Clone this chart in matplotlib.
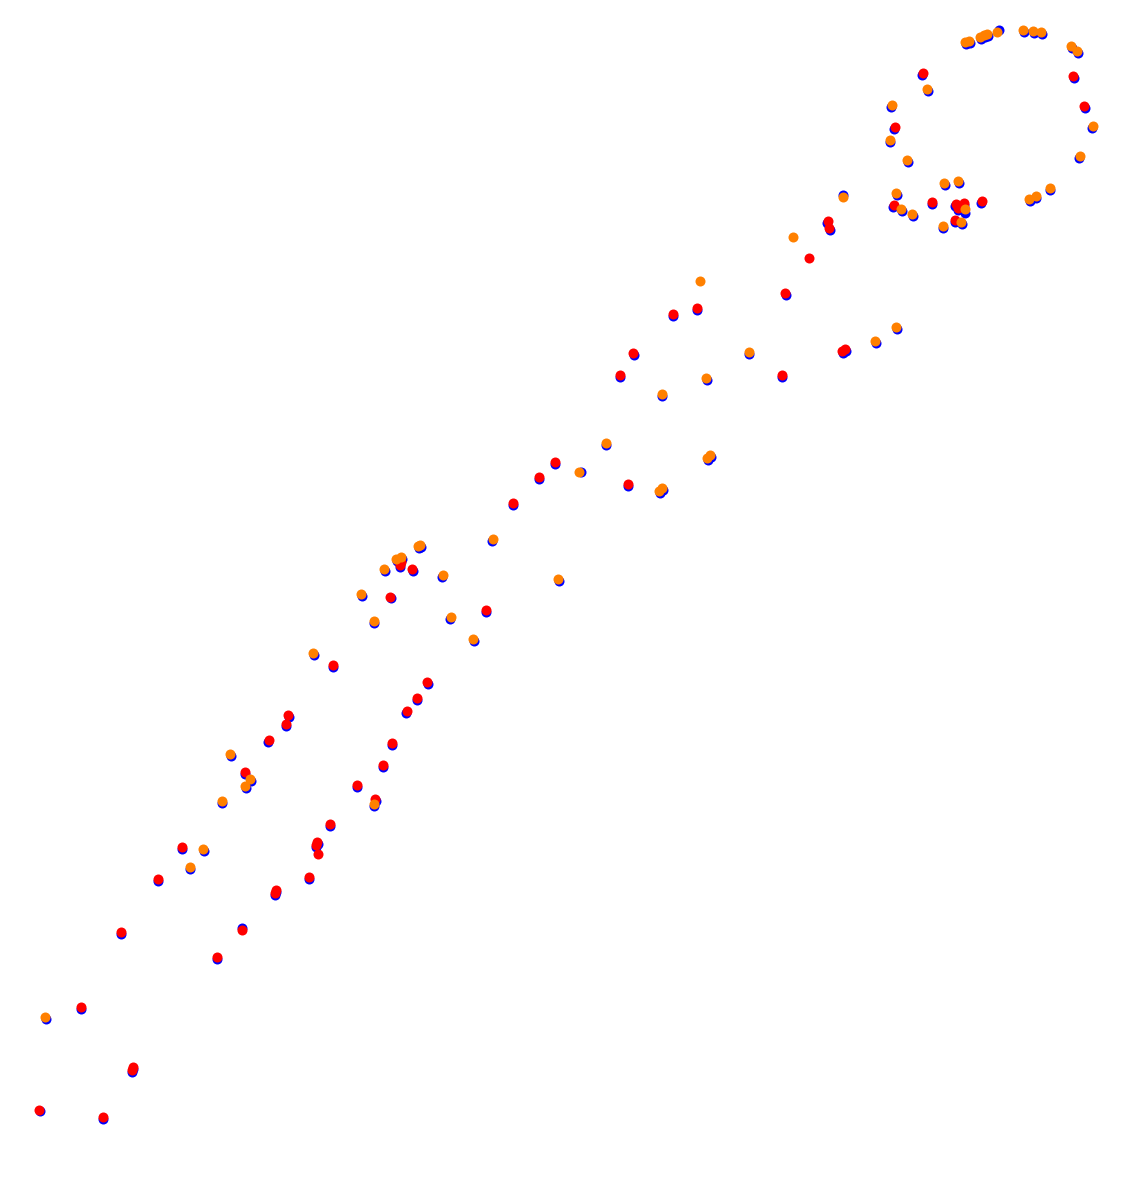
import matplotlib
matplotlib.use('Agg')
import matplotlib.pyplot as plt

# positions (image units, y grows downward)
red_x = [1073, 1084, 923, 895, 894, 932, 956, 958, 964, 955, 982,
         828, 829, 809, 785, 697, 673, 633, 620, 782, 842, 845,
         555, 539, 628, 513, 486,
         333, 427, 417, 407, 392, 383, 357, 375, 330,
         288, 286, 269, 245, 317, 316, 318, 309, 276, 275, 182, 158,
         242, 217, 121,
         412, 401, 400, 390,
         81, 133, 132, 39, 103]
red_y = [76, 106, 73, 127, 205, 202, 204, 208, 203, 220, 201,
         221, 228, 258, 293, 308, 314, 353, 375, 375, 351, 349,
         462, 477, 484, 503, 610,
         665, 682, 698, 711, 743, 765, 785, 799, 824,
         715, 724, 740, 772, 842, 845, 854, 877, 890, 893, 847, 879,
         930, 957, 932,
         569, 562, 565, 597,
         1007, 1067, 1070, 1110, 1117]

orange_x = [965, 969, 980, 984, 987, 997, 1023, 1033, 1041, 1071, 1077, 1093, 1080, 1050,
            1036, 1029, 927, 892, 890, 907, 944, 958, 896, 901, 912, 965, 961, 943,
            843, 793, 700, 662, 706, 749, 875, 896,
            606, 579, 659, 662, 707, 710, 493, 558,
            313, 374, 230, 250, 245, 222, 203, 190,
            420, 418, 396, 401, 384, 443, 361, 374, 451, 473,
            45]
orange_y = [42, 41, 37, 35, 34, 32, 30, 31, 32, 46, 51, 126, 156, 188,
            196, 199, 89, 105, 140, 160, 183, 181, 193, 209, 214, 209, 222, 226,
            197, 237, 281, 394, 378, 352, 341, 327,
            443, 472, 491, 488, 458, 455, 539, 579,
            653, 804, 754, 779, 786, 801, 849, 867,
            545, 546, 559, 557, 569, 575, 594, 621, 617, 639,
            1017]

blue_x = [1074, 1085, 922, 894, 893, 932, 955, 958, 964, 955, 981,
          827, 830, 786, 697, 673, 634, 620, 782, 843, 846,
          555, 539, 628, 513, 486,
          333, 428, 417, 406, 392, 383, 357, 376, 330,
          289, 286, 268, 245, 318, 316, 309, 276, 275, 182, 158,
          242, 217, 121,
          413, 400, 400, 391,
          81, 133, 132, 40, 103,
          966, 970, 981, 985, 988, 999, 1024, 1034, 1042, 1072, 1078, 1092, 1079, 1050,
          1036, 1030, 928, 891, 890, 908, 945, 959, 897, 902, 913, 965, 962, 943,
          843, 662, 707, 749, 876, 897,
          606, 581, 660, 663, 708, 711, 492, 559,
          314, 374, 231, 251, 246, 222, 204, 190,
          421, 419, 397, 402, 385, 442, 362, 374, 450, 474,
          46]
blue_y = [78, 108, 75, 129, 207, 204, 206, 210, 205, 222, 203,
          223, 230, 295, 310, 316, 355, 377, 377, 353, 351,
          464, 479, 486, 505, 612,
          667, 684, 700, 713, 745, 767, 787, 801, 826,
          717, 726, 742, 774, 844, 847, 879, 892, 895, 849, 881,
          928, 959, 934,
          571, 564, 567, 598,
          1009, 1069, 1072, 1111, 1119,
          44, 43, 39, 37, 36, 30, 32, 33, 34, 48, 53, 128, 158, 190,
          198, 201, 91, 107, 142, 162, 185, 183, 195, 211, 216, 213, 224, 228,
          195, 396, 380, 354, 343, 329,
          445, 472, 493, 490, 460, 457, 541, 581,
          655, 806, 756, 781, 788, 803, 851, 869,
          547, 548, 561, 559, 571, 577, 596, 623, 619, 641,
          1019]

fig = plt.figure(figsize=(11.22, 11.81), dpi=100)
ax = fig.add_axes([0, 0, 1, 1])

ax.scatter(blue_x, blue_y, s=52, color='#0000ff', linewidths=0)
ax.scatter(red_x, red_y, s=52, color='#ff0000', linewidths=0)
ax.scatter(orange_x, orange_y, s=52, color='#ff8000', linewidths=0)

ax.set_xlim(0, 1122)
ax.set_ylim(1181, 0)
ax.axis('off')

fig.savefig('out.png', dpi=100)
